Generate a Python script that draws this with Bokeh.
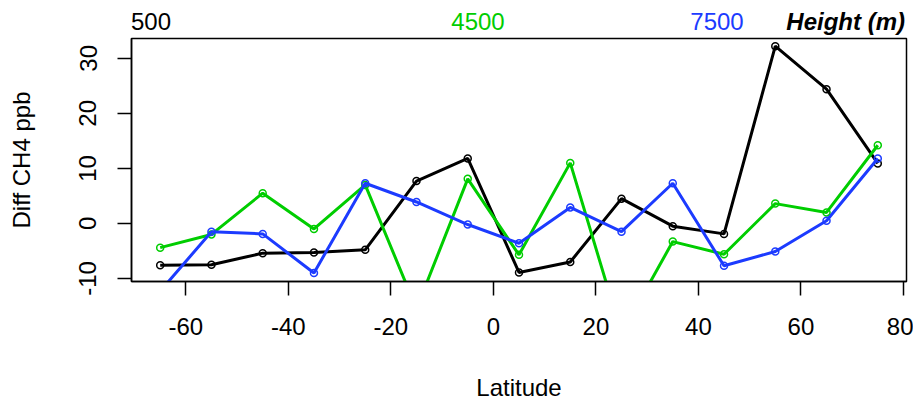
from bokeh.plotting import figure
from bokeh.models import Range1d, FixedTicker, Div
from bokeh.layouts import column
from bokeh.embed import file_html
from bokeh.resources import INLINE

# ---- data ----
latitude = [-65, -55, -45, -35, -25, -15, -5, 5, 15, 25, 35, 45, 55, 65, 75]
diff_500 = [-7.6, -7.5, -5.4, -5.3, -4.8, 7.7, 11.8, -8.9, -7.0, 4.5, -0.5, -1.9, 32.2, 24.4, 10.9]
diff_4500 = [-4.4, -2.0, 5.5, -1.0, 7.0, -15.5, 8.1, -5.7, 11.0, -20.0, -3.3, -5.6, 3.6, 2.0, 14.2]
diff_7500 = [-12.3, -1.5, -1.9, -9.0, 7.3, 3.9, -0.2, -3.6, 2.9, -1.5, 7.3, -7.7, -5.1, 0.5, 11.8]
series_names = ["500", "4500", "7500"]
legend_title = "Height (m)"
x_ticks = [-60, -40, -20, 0, 20, 40, 60, 80]
y_ticks = [-10, 0, 10, 20, 30]

BLACK = "#000000"
GREEN = "#00CD00"
BLUE = "#1C3BFF"
FONT = "Liberation Sans"
FS = "24px"

W = 913
HEADER_H = 36
FW, FH = 775, 243

p = figure(width=W, height=402 - HEADER_H, output_backend="svg", toolbar_location=None,
           x_range=Range1d(-70.6, 80.6), y_range=Range1d(-10.55, 33.6),
           frame_width=FW, frame_height=FH,
           min_border_left=131, min_border_right=7, min_border_top=2, min_border_bottom=121,
           x_axis_label="Latitude", y_axis_label="Diff CH4 ppb")

p.background_fill_color = "white"
p.border_fill_color = "white"
p.outline_line_color = "black"
p.outline_line_width = 1.5
p.xgrid.visible = False
p.ygrid.visible = False

p.xaxis.ticker = FixedTicker(ticks=x_ticks)
p.yaxis.ticker = FixedTicker(ticks=y_ticks)
p.xaxis.major_label_overrides = {t: str(t) for t in x_ticks}
p.yaxis.major_label_overrides = {t: str(t) for t in y_ticks}
for ax in (p.xaxis[0], p.yaxis[0]):
    ax.axis_line_color = "black"
    ax.axis_line_width = 1.5
    ax.major_tick_line_color = "black"
    ax.major_tick_line_width = 1.5
    ax.major_tick_out = 14
    ax.major_tick_in = 0
    ax.minor_tick_line_color = None
    ax.major_label_text_font = FONT
    ax.major_label_text_font_size = FS
    ax.major_label_text_color = "black"
    ax.axis_label_text_font = FONT
    ax.axis_label_text_font_size = FS
    ax.axis_label_text_font_style = "normal"
    ax.axis_label_text_color = "black"
p.xaxis.major_label_standoff = 22
p.xaxis.axis_label_standoff = 36
p.yaxis.major_label_orientation = "vertical"
p.yaxis.major_label_standoff = 21
p.yaxis.axis_label_standoff = 42

for ys, col in ((diff_500, BLACK), (diff_4500, GREEN), (diff_7500, BLUE)):
    p.line(latitude, ys, line_color=col, line_width=3)
    p.scatter(latitude, ys, marker="circle", size=7, fill_color=None,
              line_color=col, line_width=1.5)

# header row: series heights above the plot frame (R mtext style)
span_base = "position:absolute;top:10px;white-space:nowrap;"
header_html = (
    f'<div style="position:relative;width:{W}px;height:{HEADER_H}px;'
    f"font-family:'{FONT}';font-size:{FS};line-height:24px;\">"
    f'<span style="{span_base}left:131px;color:{BLACK};">{series_names[0]}</span>'
    f'<span style="{span_base}left:478px;transform:translateX(-50%);color:{GREEN};">{series_names[1]}</span>'
    f'<span style="{span_base}left:717px;transform:translateX(-50%);color:{BLUE};">{series_names[2]}</span>'
    f'<span style="{span_base}right:8px;color:{BLACK};font-weight:bold;font-style:italic;">{legend_title}</span>'
    "</div>"
)
header = Div(text=header_html, width=W, height=HEADER_H, margin=0)

layout = column(header, p, spacing=0)
open("out.html", "w").write(file_html(layout, INLINE))
